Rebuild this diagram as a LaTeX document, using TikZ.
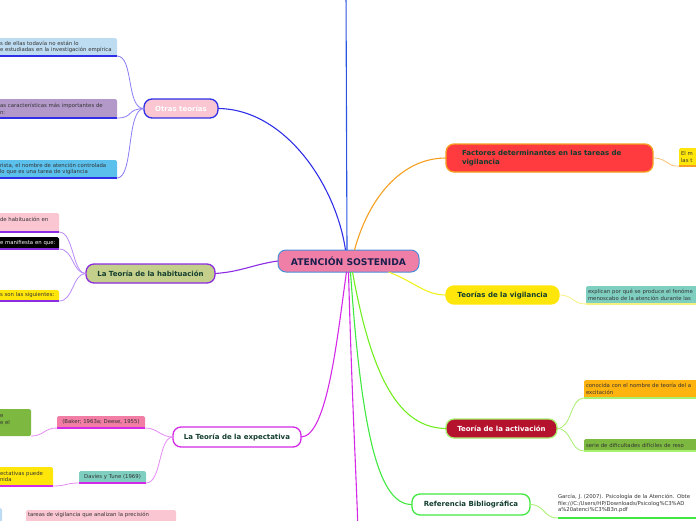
\documentclass[tikz,border=0pt]{standalone}
\usepackage{fontspec}
\setmainfont{DejaVu Sans}
\definecolor{cfill}{HTML}{F07FA8}
\definecolor{cborder}{HTML}{4A8FD8}
\definecolor{navy}{HTML}{1A1F4D}
\definecolor{dkgreen}{HTML}{123D2E}
\definecolor{txt}{HTML}{333333}
\definecolor{blueA}{HTML}{2F2FE8}
\definecolor{blueB}{HTML}{8A7CF5}
\definecolor{vertblue}{HTML}{2A55E0}
\definecolor{purA}{HTML}{8B2BE2}
\definecolor{purB}{HTML}{B98AF8}
\definecolor{magA}{HTML}{D42AE8}
\definecolor{magB}{HTML}{E58AF5}
\definecolor{oraA}{HTML}{F5A020}
\definecolor{oraB}{HTML}{F8C070}
\definecolor{yelA}{HTML}{F0F020}
\definecolor{yelB}{HTML}{F5F080}
\definecolor{grnA}{HTML}{70EE20}
\definecolor{grnB}{HTML}{A8F070}
\definecolor{refA}{HTML}{40E840}
\definecolor{pinkL}{HTML}{F9C6D2}
\definecolor{blueL}{HTML}{BEDCF1}
\definecolor{purL}{HTML}{B399C9}
\definecolor{cyanL}{HTML}{5BC0EB}
\definecolor{olive}{HTML}{C3CF8B}
\definecolor{yelL}{HTML}{FFE60A}
\definecolor{pinkD}{HTML}{F27DA5}
\definecolor{teal}{HTML}{7FCFC1}
\definecolor{grnL}{HTML}{7DB940}
\definecolor{redA}{HTML}{FF3B3F}
\definecolor{crim}{HTML}{B5122E}
\definecolor{oraL}{HTML}{FFB30F}
\begin{document}
\begin{tikzpicture}[x=1pt,y=-1pt,
  topic/.style={rectangle, rounded corners=8pt, line width=1.3pt, inner sep=0pt, outer sep=0pt,
    font=\bfseries\fontsize{7}{8.2}\selectfont, text=dkgreen, align=center},
  leaf/.style={rectangle, rounded corners=1.5pt, inner sep=2pt, outer sep=0pt,
    font=\fontsize{5.35}{6.8}\selectfont, text=txt, align=left},
  conn/.style={line width=1.1pt},
  sub/.style={line width=0.8pt},
  uline/.style={line width=1.4pt}]
\useasboundingbox (0,0) rectangle (696,520);
\clip (0,0) rectangle (696,520);

% ---------- central node
\node[topic, fill=cfill, draw=cborder, line width=1pt, text=navy, font=\bfseries\fontsize{9.2}{10}\selectfont,
  minimum width=141pt, minimum height=22pt] (c) at (348.5,261) {ATENCIÓN SOSTENIDA};
\coordinate (upend) at (346,-10);
\coordinate (downend) at (358,530);

% ---------- main topics
\node[topic, fill=pinkL, draw=blueA, text=white, minimum width=74pt, minimum height=19pt] (ot) at (181,108.5) {Otras teorías};
\node[topic, fill=olive, draw=purA, minimum width=129pt, minimum height=19pt] (hab) at (150.5,273.5) {La Teoría de la habituación};
\node[topic, fill=white, draw=magA, minimum width=128pt, minimum height=20pt] (exp) at (237,437) {La Teoría de la expectativa};
\node[topic, fill=redA, draw=oraA, minimum width=207pt, minimum height=28pt, align=left, text width=175pt] (fac) at (549.5,158)
  {Factores determinantes en las tareas de\\vigilancia};
\node[topic, fill=yelL, draw=yelL, minimum width=113pt, minimum height=18pt] (vig) at (502.5,295) {Teorías de la vigilancia};
\node[topic, fill=crim, draw=grnB, text=white, minimum width=111pt, minimum height=19pt] (act) at (501.5,428.5) {Teoría de la activación};
\node[topic, fill=white, draw=refA, minimum width=118pt, minimum height=21pt] (ref) at (471,504.5) {Referencia Bibliográfica};

% ---------- main connectors
\draw[conn, vertblue] ([xshift=-1.5pt]c.north) -- (upend);
\draw[conn, blueA] (ot.east) .. controls (285,109) and (336,185) .. ([xshift=-3pt]c.north);
\draw[conn, purA] (hab.east) .. controls (240,272) and (255,264) .. (c.west);
\draw[conn, magA] (exp.east) .. controls (328,437) and (338,330) .. ([xshift=-2pt]c.south);
\draw[conn, magA] (c.south) .. controls (352,400) and (356,470) .. (downend);
\draw[conn, oraA] ([xshift=6pt]c.north) .. controls (368,200) and (400,158) .. (fac.west);
\draw[conn, yelA] ([xshift=40pt]c.south) .. controls (415,282) and (425,295) .. (vig.west);
\draw[conn, grnA] ([xshift=4pt]c.south) .. controls (372,380) and (400,428) .. (act.west);
\draw[conn, refA] ([xshift=2pt]c.south) .. controls (362,440) and (380,505) .. (ref.west);

% ---------- Otras teorias children
\node[leaf, fill=blueL, minimum width=119pt, minimum height=18pt, text width=115pt] (b1) at (57.5,47)
  {s de ellas todavía no están lo\\e estudiadas en la investigación empírica};
\node[leaf, fill=purL, minimum width=119pt, minimum height=19pt, text width=115pt] (b2) at (57.5,108.5)
  {as características más importantes de\\n:};
\node[leaf, fill=cyanL, minimum width=119pt, minimum height=18pt, text width=115pt] (b3) at (57.5,169)
  {rista, el nombre de atención controlada\\lo que es una tarea de vigilancia};
\foreach \n/\yy in {b1/56,b2/118,b3/178}{
  \draw[uline, blueA] (\n.south west) -- (\n.south east);
  \draw[sub, blueB] (ot.west) .. controls (126,109) and (134,\yy) .. (\n.south east);
}

% ---------- habituation children
\node[leaf, fill=pinkL, minimum width=61pt, minimum height=19pt, text width=57pt] (h1) at (28.5,222.5) {de habituación en\\\mbox{}};
\node[leaf, fill=black, text=white, minimum width=61pt, minimum height=12pt, text width=57pt] (h2) at (28.5,243) {e manifiesta en que:};
\node[leaf, fill=yelL, minimum width=61pt, minimum height=11pt, text width=57pt] (h3) at (28.5,295.5) {s son las siguientes:};
\foreach \n/\yy in {h1/232,h2/249,h3/301}{
  \draw[uline, purA] (\n.south west) -- (\n.south east);
  \draw[sub, purB] (hab.west) .. controls (72,273.5) and (74,\yy) .. (\n.south east);
}

% ---------- expectativa children
\node[leaf, fill=pinkD, minimum width=88pt, minimum height=12pt, align=center] (bak) at (101,422) {(Baker; 1963a; Deese, 1955)};
\node[leaf, fill=teal, minimum width=67pt, minimum height=12pt, align=center] (dav) at (112.5,477) {Davies y Tune (1969)};
\node[leaf, fill=grnL, minimum width=33pt, minimum height=27pt, text width=29pt] (eg) at (14.5,422.5) {e\\e el\\\mbox{}};
\node[leaf, fill=yelL, minimum width=55pt, minimum height=19pt, text width=51pt] (ey) at (25.5,476.5) {ectativas puede\\nida};
\node[leaf, fill=pinkL, minimum width=150pt, minimum height=16pt, text width=146pt, anchor=north west] (ep) at (26,510)
  {tareas de vigilancia que analizan la precisión\\\mbox{}};
\node[leaf, fill=blueL, minimum width=8pt, minimum height=16pt, anchor=north east] (eb) at (2,508) {};
\draw[uline, magA] (bak.south west) -- (bak.south east);
\draw[uline, magA] (dav.south west) -- (dav.south east);
\draw[uline, magA] (ey.south west) -- (ey.south east);
\draw[sub, magB] (exp.west) .. controls (160,437) and (158,428) .. (bak.south east);
\draw[sub, magB] (exp.west) .. controls (158,437) and (162,483) .. (dav.south east);
\draw[sub, magB] (bak.south west) .. controls (44,428) and (44,436) .. (eg.south east);
\draw[sub, magB] (dav.south west) .. controls (66,483) and (66,486) .. (ey.south east);

% ---------- right children
\node[leaf, fill=yelL, minimum width=40pt, minimum height=18pt, text width=36pt, anchor=west] (fc) at (679,157) {El m\\las t};
\draw[uline, oraA] (fc.south west) -- (fc.south east);
\draw[sub, oraB] (fac.east) .. controls (668,158) and (666,167) .. (fc.south west);

\node[leaf, fill=teal, minimum width=134pt, minimum height=18pt, text width=130pt, anchor=west] (vc) at (586,295)
  {explican por qué se produce el fenóme\\menoscabo de la atención durante las};
\draw[sub, yelB] (vig.east) .. controls (574,295) and (572,304) .. (vc.south west);
\draw[uline, yelB] (vc.south west) -- (vc.south east);

\node[leaf, fill=oraL, minimum width=136pt, minimum height=18pt, text width=132pt, anchor=west] (ac1) at (584,389)
  {conocida con el nombre de teoría del a\\excitación};
\node[leaf, fill=grnL, minimum width=136pt, minimum height=12pt, text width=132pt, anchor=west] (ac2) at (584,445)
  {serie de dificultades difíciles de reso};
\draw[uline, grnB] (ac1.south west) -- (ac1.south east);
\draw[uline, grnB] (ac2.south west) -- (ac2.south east);
\draw[sub, grnB] (act.east) .. controls (572,428.5) and (570,398) .. (ac1.south west);
\draw[sub, grnB] (act.east) .. controls (572,428.5) and (570,451) .. (ac2.south west);

\node[leaf, text width=150pt, anchor=north west, inner sep=0pt] (rc) at (558,494)
  {García, J. (2007). Psicología de la Atención. Obte\\file:///C:/Users/HP/Downloads/Psicolog\%C3\%AD\\a\%20atenci\%C3\%B3n.pdf};
\coordinate (rcl) at (558,518);
\coordinate (rcr) at (700,518);
\draw[uline, refA] (rcl) -- (rcr);
\draw[sub, grnB] (ref.east) .. controls (545,504.5) and (543,518) .. (rcl);
\end{tikzpicture}
\end{document}
